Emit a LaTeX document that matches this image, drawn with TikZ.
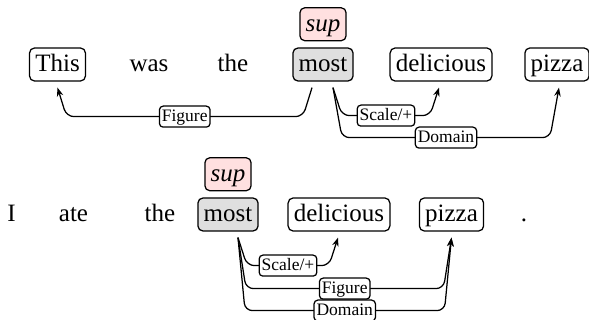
\documentclass[tikz,border=0pt]{standalone}
\usepackage{fontspec}
\setmainfont{Liberation Serif}
\usetikzlibrary{calc,arrows.meta}
\begin{document}
\begin{tikzpicture}[x=0.4pt,y=-0.4pt,
 word/.style={inner xsep=2.3pt,inner ysep=1pt,text height=8.4pt,text depth=2.8pt,font=\fontsize{10pt}{12pt}\selectfont},
 wbox/.style={word,draw,rounded corners=2pt,line width=0.5pt},
 hl/.style={wbox,fill=gray!25},
 supbox/.style={wbox,fill=red!12,font=\fontsize{10pt}{12pt}\selectfont\itshape,anchor=south},
 lab/.style={draw,rounded corners=1.5pt,fill=white,inner xsep=1pt,inner ysep=0.8pt,text height=5.2pt,text depth=1.6pt,font=\fontsize{7pt}{8pt}\selectfont,line width=0.5pt},
 dep/.style={draw,line width=0.5pt,rounded corners=3pt,-{Stealth[length=3.5pt,width=2.6pt]}}]
\useasboundingbox (0,0) rectangle (589,320);
% row 1
\node[wbox] (this1) at (57.5,64.5) {This};
\node[word] (was1) at (149,64.5) {was};
\node[word] (the1) at (233,64.5) {the};
\node[hl] (most1) at (323,64.5) {most};
\node[wbox] (del1) at (441,64.5) {delicious};
\node[wbox] (pizza1) at (557,64.5) {pizza};
\node[supbox] (sup1) at ($(most1.north)+(0,-6)$) {sup};
% row 2
\node[word] (i2) at (11.5,214.5) {I};
\node[word] (ate2) at (73.5,214.5) {ate};
\node[word] (the2) at (160,214.5) {the};
\node[hl] (most2) at (228,214.5) {most};
\node[wbox] (del2) at (339,214.5) {delicious};
\node[wbox] (pizza2) at (451.5,214.5) {pizza};
\node[word] (dot2) at (524,214.5) {.};
\node[supbox] (sup2) at ($(most2.north)+(0,-6)$) {sup};
% row 1 edges
\coordinate (s1a) at ($(most1.south)+(-11,6)$);
\coordinate (s1b) at ($(most1.south)+(10,6)$);
\coordinate (e1this) at ($(this1.south)+(0,6)$);
\coordinate (e1del) at ($(del1.south)+(-2,6)$);
\coordinate (e1piz) at ($(pizza1.south)+(2,6)$);
\draw[dep] (s1a) -- ($(s1a)+(-9,29)$) -- ($(e1this)+(9,29)$) node[lab,midway]{Figure} -- (e1this);
\draw[dep] (s1b) -- ($(s1b)+(9,28)$) -- ($(e1del)+(-9,28)$) node[lab,midway]{Scale/+} -- (e1del);
\draw[dep] (s1b) -- ($(s1b)+(9,50)$) -- ($(e1piz)+(-9,50)$) node[lab,midway]{Domain} -- (e1piz);
% row 2 edges
\coordinate (s2) at ($(most2.south)+(10,6)$);
\coordinate (e2del) at ($(del2.south)+(-1,6)$);
\coordinate (e2piz) at ($(pizza2.south)+(0,6)$);
\draw[dep] (s2) -- ($(s2)+(9,28)$) -- ($(e2del)+(-9,28)$) node[lab,midway]{Scale/+} -- (e2del);
\draw[dep] (s2) -- ($(s2)+(8,51)$) -- ($(e2piz)+(-8,51)$) node[lab,midway]{Figure} -- (e2piz);
\draw[dep] (s2) -- ($(s2)+(7,73)$) -- ($(e2piz)+(-7,73)$) node[lab,midway]{Domain} -- (e2piz);
\end{tikzpicture}
\end{document}
